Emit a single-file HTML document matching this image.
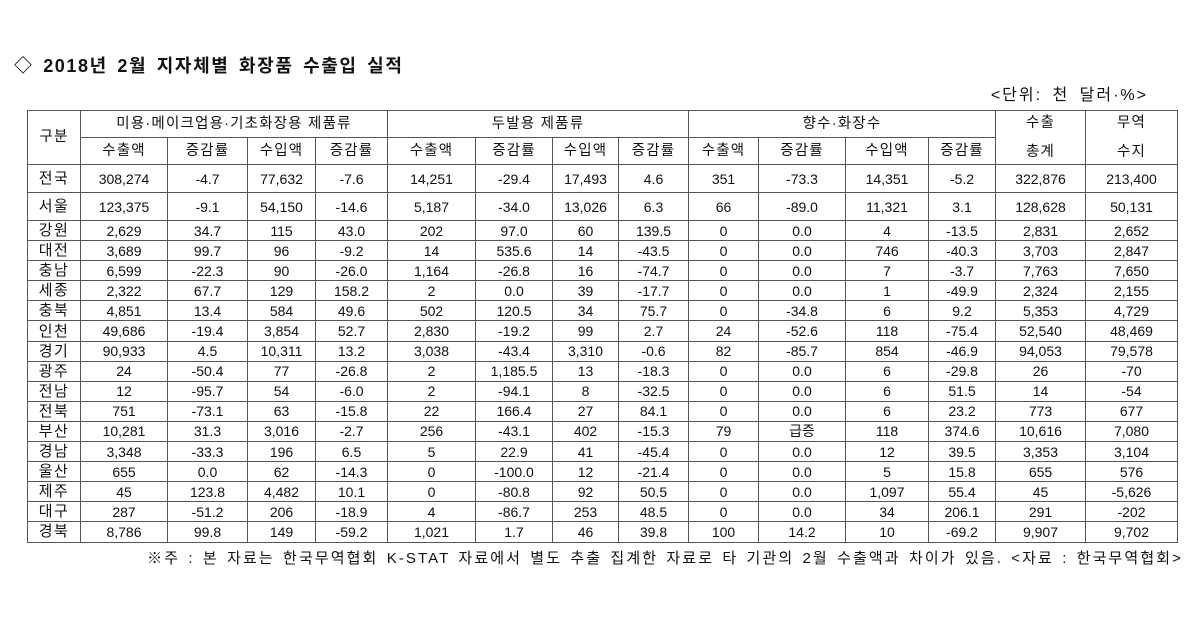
<!DOCTYPE html>
<html><head><meta charset="utf-8"><style>
body{margin:0;background:#fff;width:1200px;height:622px;overflow:hidden;position:relative;font-family:"Liberation Sans","Noto Sans CJK KR",sans-serif;color:#111}
.t{position:absolute;left:14px;top:52px;font-size:18px;font-weight:bold;letter-spacing:1.6px;word-spacing:3px}
.u{position:absolute;right:52px;top:81px;font-size:16px;letter-spacing:2px;word-spacing:4px}
.f{position:absolute;right:17px;top:547px;font-size:15px;letter-spacing:2.1px;word-spacing:2px}
table{position:absolute;left:27px;top:110px;border-collapse:collapse;table-layout:fixed;font-size:14px}
td{border:1px solid #555;text-align:center;padding:0;white-space:nowrap;overflow:hidden;line-height:1}
tr.h td{height:26px;letter-spacing:1.2px;font-size:14.5px}
td:first-child{letter-spacing:1.5px;font-size:15px}
tr.b td{height:27px}
tr.r td{height:19.1px}
</style></head><body>
<div class="t">◇ 2018년 2월 지자체별 화장품 수출입 실적</div>
<div class="u">&lt;단위: 천 달러·%&gt;</div>
<table>
<colgroup><col style="width:53px"><col style="width:87px"><col style="width:80px"><col style="width:68px"><col style="width:72px"><col style="width:88px"><col style="width:77px"><col style="width:66px"><col style="width:70px"><col style="width:70px"><col style="width:87px"><col style="width:83px"><col style="width:67px"><col style="width:90px"><col style="width:92px"></colgroup>
<tr class="h"><td rowspan="2">구분</td><td colspan="4">미용·메이크업용·기초화장용 제품류</td><td colspan="4">두발용 제품류</td><td colspan="4">향수·화장수</td><td rowspan="2">수출<br><br>총계</td><td rowspan="2">무역<br><br>수지</td></tr>
<tr class="h"><td style="letter-spacing:1.2px;font-size:14.5px">수출액</td><td>증감률</td><td>수입액</td><td>증감률</td><td>수출액</td><td>증감률</td><td>수입액</td><td>증감률</td><td>수출액</td><td>증감률</td><td>수입액</td><td>증감률</td></tr>
<tr class="b"><td>전국</td><td>308,274</td><td>-4.7</td><td>77,632</td><td>-7.6</td><td>14,251</td><td>-29.4</td><td>17,493</td><td>4.6</td><td>351</td><td>-73.3</td><td>14,351</td><td>-5.2</td><td>322,876</td><td>213,400</td></tr>
<tr class="b"><td>서울</td><td>123,375</td><td>-9.1</td><td>54,150</td><td>-14.6</td><td>5,187</td><td>-34.0</td><td>13,026</td><td>6.3</td><td>66</td><td>-89.0</td><td>11,321</td><td>3.1</td><td>128,628</td><td>50,131</td></tr>
<tr class="r"><td>강원</td><td>2,629</td><td>34.7</td><td>115</td><td>43.0</td><td>202</td><td>97.0</td><td>60</td><td>139.5</td><td>0</td><td>0.0</td><td>4</td><td>-13.5</td><td>2,831</td><td>2,652</td></tr>
<tr class="r"><td>대전</td><td>3,689</td><td>99.7</td><td>96</td><td>-9.2</td><td>14</td><td>535.6</td><td>14</td><td>-43.5</td><td>0</td><td>0.0</td><td>746</td><td>-40.3</td><td>3,703</td><td>2,847</td></tr>
<tr class="r"><td>충남</td><td>6,599</td><td>-22.3</td><td>90</td><td>-26.0</td><td>1,164</td><td>-26.8</td><td>16</td><td>-74.7</td><td>0</td><td>0.0</td><td>7</td><td>-3.7</td><td>7,763</td><td>7,650</td></tr>
<tr class="r"><td>세종</td><td>2,322</td><td>67.7</td><td>129</td><td>158.2</td><td>2</td><td>0.0</td><td>39</td><td>-17.7</td><td>0</td><td>0.0</td><td>1</td><td>-49.9</td><td>2,324</td><td>2,155</td></tr>
<tr class="r"><td>충북</td><td>4,851</td><td>13.4</td><td>584</td><td>49.6</td><td>502</td><td>120.5</td><td>34</td><td>75.7</td><td>0</td><td>-34.8</td><td>6</td><td>9.2</td><td>5,353</td><td>4,729</td></tr>
<tr class="r"><td>인천</td><td>49,686</td><td>-19.4</td><td>3,854</td><td>52.7</td><td>2,830</td><td>-19.2</td><td>99</td><td>2.7</td><td>24</td><td>-52.6</td><td>118</td><td>-75.4</td><td>52,540</td><td>48,469</td></tr>
<tr class="r"><td>경기</td><td>90,933</td><td>4.5</td><td>10,311</td><td>13.2</td><td>3,038</td><td>-43.4</td><td>3,310</td><td>-0.6</td><td>82</td><td>-85.7</td><td>854</td><td>-46.9</td><td>94,053</td><td>79,578</td></tr>
<tr class="r"><td>광주</td><td>24</td><td>-50.4</td><td>77</td><td>-26.8</td><td>2</td><td>1,185.5</td><td>13</td><td>-18.3</td><td>0</td><td>0.0</td><td>6</td><td>-29.8</td><td>26</td><td>-70</td></tr>
<tr class="r"><td>전남</td><td>12</td><td>-95.7</td><td>54</td><td>-6.0</td><td>2</td><td>-94.1</td><td>8</td><td>-32.5</td><td>0</td><td>0.0</td><td>6</td><td>51.5</td><td>14</td><td>-54</td></tr>
<tr class="r"><td>전북</td><td>751</td><td>-73.1</td><td>63</td><td>-15.8</td><td>22</td><td>166.4</td><td>27</td><td>84.1</td><td>0</td><td>0.0</td><td>6</td><td>23.2</td><td>773</td><td>677</td></tr>
<tr class="r"><td>부산</td><td>10,281</td><td>31.3</td><td>3,016</td><td>-2.7</td><td>256</td><td>-43.1</td><td>402</td><td>-15.3</td><td>79</td><td>급증</td><td>118</td><td>374.6</td><td>10,616</td><td>7,080</td></tr>
<tr class="r"><td>경남</td><td>3,348</td><td>-33.3</td><td>196</td><td>6.5</td><td>5</td><td>22.9</td><td>41</td><td>-45.4</td><td>0</td><td>0.0</td><td>12</td><td>39.5</td><td>3,353</td><td>3,104</td></tr>
<tr class="r"><td>울산</td><td>655</td><td>0.0</td><td>62</td><td>-14.3</td><td>0</td><td>-100.0</td><td>12</td><td>-21.4</td><td>0</td><td>0.0</td><td>5</td><td>15.8</td><td>655</td><td>576</td></tr>
<tr class="r"><td>제주</td><td>45</td><td>123.8</td><td>4,482</td><td>10.1</td><td>0</td><td>-80.8</td><td>92</td><td>50.5</td><td>0</td><td>0.0</td><td>1,097</td><td>55.4</td><td>45</td><td>-5,626</td></tr>
<tr class="r"><td>대구</td><td>287</td><td>-51.2</td><td>206</td><td>-18.9</td><td>4</td><td>-86.7</td><td>253</td><td>48.5</td><td>0</td><td>0.0</td><td>34</td><td>206.1</td><td>291</td><td>-202</td></tr>
<tr class="r"><td>경북</td><td>8,786</td><td>99.8</td><td>149</td><td>-59.2</td><td>1,021</td><td>1.7</td><td>46</td><td>39.8</td><td>100</td><td>14.2</td><td>10</td><td>-69.2</td><td>9,907</td><td>9,702</td></tr>
</table>
<div class="f">※주 : 본 자료는 한국무역협회 K-STAT 자료에서 별도 추출 집계한 자료로 타 기관의 2월 수출액과 차이가 있음. &lt;자료 : 한국무역협회&gt;</div>
</body></html>
